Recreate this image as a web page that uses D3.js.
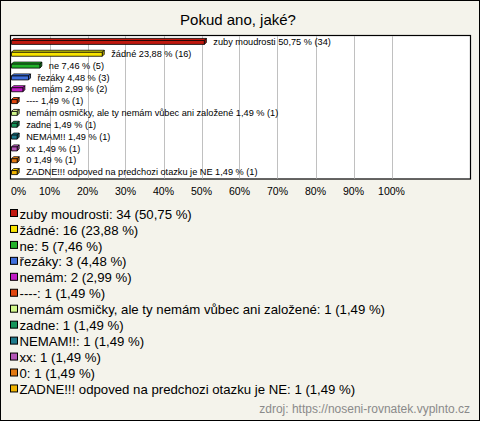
<!DOCTYPE html>
<html><head><meta charset="utf-8">
<script src="https://cdn.jsdelivr.net/npm/d3@7"></script>
<style>body{margin:0;background:#fff}svg{display:block}text{font-family:"Liberation Sans",Arial,sans-serif}</style>
</head><body>
<script>
const title = "Pokud ano, jaké?";
const categories = ["zuby moudrosti","žádné","ne","řezáky","nemám","----","nemám osmičky, ale ty nemám vůbec ani založené","zadne","NEMAM!!","xx","0","ZADNE!!! odpoved na predchozi otazku je NE"];
const counts = [34,16,5,3,2,1,1,1,1,1,1,1];
const percents = [50.75,23.88,7.46,4.48,2.99,1.49,1.49,1.49,1.49,1.49,1.49,1.49];
const colors = ["#c0180e","#f8e400","#22b12a","#3f6fdc","#c21cc6","#e0460f","#d2f98c","#17955a","#1f7b8c","#b557b8","#e27810","#f0b400"];
const ticks = [0,10,20,30,40,50,60,70,80,90,100];
const source = "zdroj: https://noseni-rovnatek.vyplnto.cz";

const W=480,H=421;
const svg=d3.select("body").append("svg").attr("width",W).attr("height",H);
svg.append("rect").attr("x",0.5).attr("y",0.5).attr("width",W-1).attr("height",H-1).attr("fill","#f4f3eb").attr("stroke","#000");
svg.append("text").attr("x",238).attr("y",25).attr("text-anchor","middle").attr("font-size",15).attr("fill","#000").text(title);

const x=d3.scaleLinear().domain([0,100]).range([11.5,391.5]);
const y=d3.scaleBand().domain(categories).range([36,178]);
const fmt=v=>v.toFixed(2).replace(".",",");

svg.append("rect").attr("x",10.5).attr("y",35.5).attr("width",460).attr("height",143.5).attr("fill","#fff").attr("stroke","#000").attr("stroke-width",1.2);
svg.append("g").selectAll("line").data(ticks.slice(1)).join("line")
  .attr("x1",d=>Math.round(x(d))+0.5).attr("x2",d=>Math.round(x(d))+0.5)
  .attr("y1",36).attr("y2",178.5).attr("stroke","#c0c0c0");

const dep=2;
const g=svg.append("g");
categories.forEach((c,i)=>{
  const cy=y(c)+y.bandwidth()/2;
  const x0=x(0), x1=x(percents[i]);
  const top=cy-1.5, bot=cy+2.5;
  const col=d3.color(colors[i]);
  const bg=g.append("g").attr("stroke","#000").attr("stroke-width",0.8).attr("stroke-linejoin","round");
  bg.append("path").attr("d",`M${x0},${top}L${x0+dep},${top-dep}L${x1+dep},${top-dep}L${x1},${top}Z`).attr("fill",col.brighter(0.5));
  bg.append("path").attr("d",`M${x1},${top}L${x1+dep},${top-dep}L${x1+dep},${bot-dep}L${x1},${bot}Z`).attr("fill",col.darker(0.6));
  bg.append("rect").attr("x",x0).attr("y",top).attr("width",x1-x0).attr("height",bot-top).attr("fill",colors[i]);
  g.append("text").attr("x",x1+dep+7).attr("y",cy+3.2).attr("font-size",9.2).attr("fill","#000")
    .text(`${c} ${fmt(percents[i])} % (${counts[i]})`);
});

svg.append("g").selectAll("text").data(ticks).join("text")
  .attr("x",d=>d===0?11:x(d)).attr("y",195).attr("text-anchor",d=>d===0?"start":"middle")
  .attr("font-size",10.5).attr("fill","#000").text(d=>d+"%");

const lg=svg.append("g");
categories.forEach((c,i)=>{
  const cy=214+i*15.95;
  lg.append("rect").attr("x",10.5).attr("y",cy-4.5).attr("width",7).attr("height",7).attr("fill",colors[i]).attr("stroke","#000");
  lg.append("text").attr("x",19.5).attr("y",cy+4.6).attr("font-size",13.2).attr("fill","#000")
    .text(`${c}: ${counts[i]} (${fmt(percents[i])} %)`);
});
svg.append("text").attr("x",470).attr("y",412.5).attr("text-anchor","end").attr("font-size",12).attr("fill","#8a8a8a").text(source);
</script>
</body></html>
